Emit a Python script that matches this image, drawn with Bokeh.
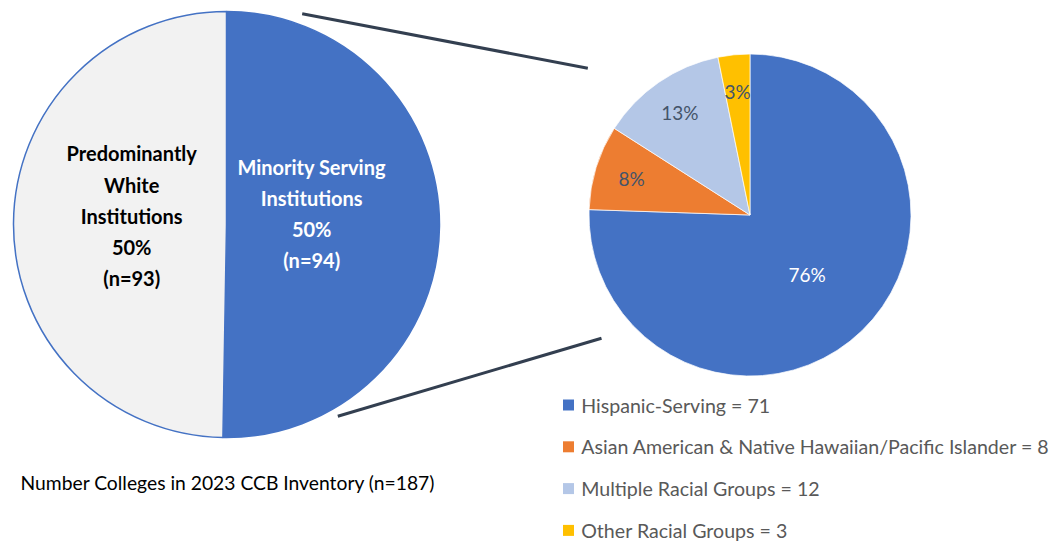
import numpy as np
from bokeh.plotting import figure
from bokeh.models import Range1d, ColumnDataSource
from bokeh.core.properties import value
from bokeh.embed import file_html
from bokeh.resources import INLINE

# ---- data ----
main_labels = ["Minority Serving\nInstitutions", "Predominantly\nWhite\nInstitutions"]
main_counts = [94, 93]
main_colors = ["#4472C4", "#F2F2F2"]
main_text_colors = ["white", "black"]

sub_labels = ["Hispanic-Serving", "Asian American & Native Hawaiian/Pacific Islander",
              "Multiple Racial Groups", "Other Racial Groups"]
sub_counts = [71, 8, 12, 3]
sub_colors = ["#4472C4", "#ED7D31", "#B4C7E7", "#FFC000"]
sub_text_colors = ["white", "#44546A", "#44546A", "#44546A"]

caption = "Number Colleges in 2023 CCB Inventory (n=187)"

W, H = 1059, 541
FONT = "Lato"

def fx(x):
    return x

def fy(y):
    return H - y

p = figure(width=W, height=H, x_range=Range1d(0, W), y_range=Range1d(0, H),
           output_backend="svg", toolbar_location=None,
           x_axis_location=None, y_axis_location=None, min_border=0)
p.grid.visible = False
p.outline_line_color = None
p.background_fill_color = "white"


def angles(counts):
    c = np.array(counts, dtype=float)
    frac = c / c.sum()
    cum = np.concatenate([[0], np.cumsum(frac)])
    start = np.pi / 2 - cum[:-1] * 2 * np.pi
    end = np.pi / 2 - cum[1:] * 2 * np.pi
    return frac, start, end


def pct_labels(counts):
    # largest-remainder rounding so the labels add up to 100%
    c = np.array(counts, dtype=float)
    raw = c / c.sum() * 100
    fl = np.floor(raw).astype(int)
    rem = raw - fl
    short = 100 - fl.sum()
    for i in np.argsort(-rem)[:short]:
        fl[i] += 1
    return [f"{v}%" for v in fl]

# ---- connector lines ----
p.line([fx(301.7), fx(587.3)], [fy(13.3), fy(67.7)], line_color="#333F50", line_width=3)
p.line([fx(337.3), fx(601)], [fy(415.7), fy(337.7)], line_color="#333F50", line_width=3)

# ---- main pie ----
mcx, mcy, mr = fx(226), fy(224), 213
frac, st, en = angles(main_counts)
src = ColumnDataSource(dict(start=st, end=en, color=main_colors))
p.wedge(x=mcx, y=mcy, radius=mr, start_angle="start", end_angle="end",
        direction="clock", fill_color="color", line_color="#4472C4", line_width=1.5,
        source=src)
main_pct = pct_labels(main_counts)
main_txt = [f"{l}\n{pc}\n(n={c})" for l, pc, c in zip(main_labels, main_pct, main_counts)]
mid = (st + en) / 2
lr = [0.40, 0.445]
lx = [mcx + r * mr * np.cos(a) for r, a in zip(lr, mid)]
ly = [fy(213.2), fy(215.3)]
p.text(x=lx, y=ly, text=main_txt, text_color=main_text_colors,
       text_font=value(FONT), text_font_style="bold", text_font_size="20px",
       text_align="center", text_baseline="middle", text_line_height=1.3)

# ---- sub pie ----
scx, scy, sr = fx(749.5), fy(214.5), 161
frac, st, en = angles(sub_counts)
src2 = ColumnDataSource(dict(start=st, end=en, color=sub_colors))
p.wedge(x=scx, y=scy, radius=sr, start_angle="start", end_angle="end",
        direction="clock", fill_color="color", line_color="white", line_width=0.7,
        source=src2)
mid = (st + en) / 2
rf = np.where(frac > 0.5, 0.51, 0.77)
sx = scx + rf * sr * np.cos(mid)
sy = scy + rf * sr * np.sin(mid)
p.text(x=sx, y=sy, text=pct_labels(sub_counts), text_color=sub_text_colors,
       text_font=value(FONT), text_font_size="19px",
       text_align="center", text_baseline="middle")

# ---- legend ----
leg_y = [fy(404.5 + 41.8 * i) for i in range(len(sub_labels))]
p.rect(x=[fx(568)] * len(sub_labels), y=leg_y, width=11, height=11,
       fill_color=sub_colors, line_color=None)
p.text(x=[fx(580.7)] * len(sub_labels), y=leg_y,
       text=[f"{l} = {c}" for l, c in zip(sub_labels, sub_counts)],
       text_color="#595959", text_font=value(FONT), text_font_size="19.6px",
       text_align="left", text_baseline="middle")

# ---- caption ----
p.text(x=[fx(20)], y=[fy(481.7)], text=[caption], text_color="black",
       text_font=value(FONT), text_font_size="19.3px",
       text_align="left", text_baseline="middle")

open("out.html", "w").write(file_html(p, INLINE))
